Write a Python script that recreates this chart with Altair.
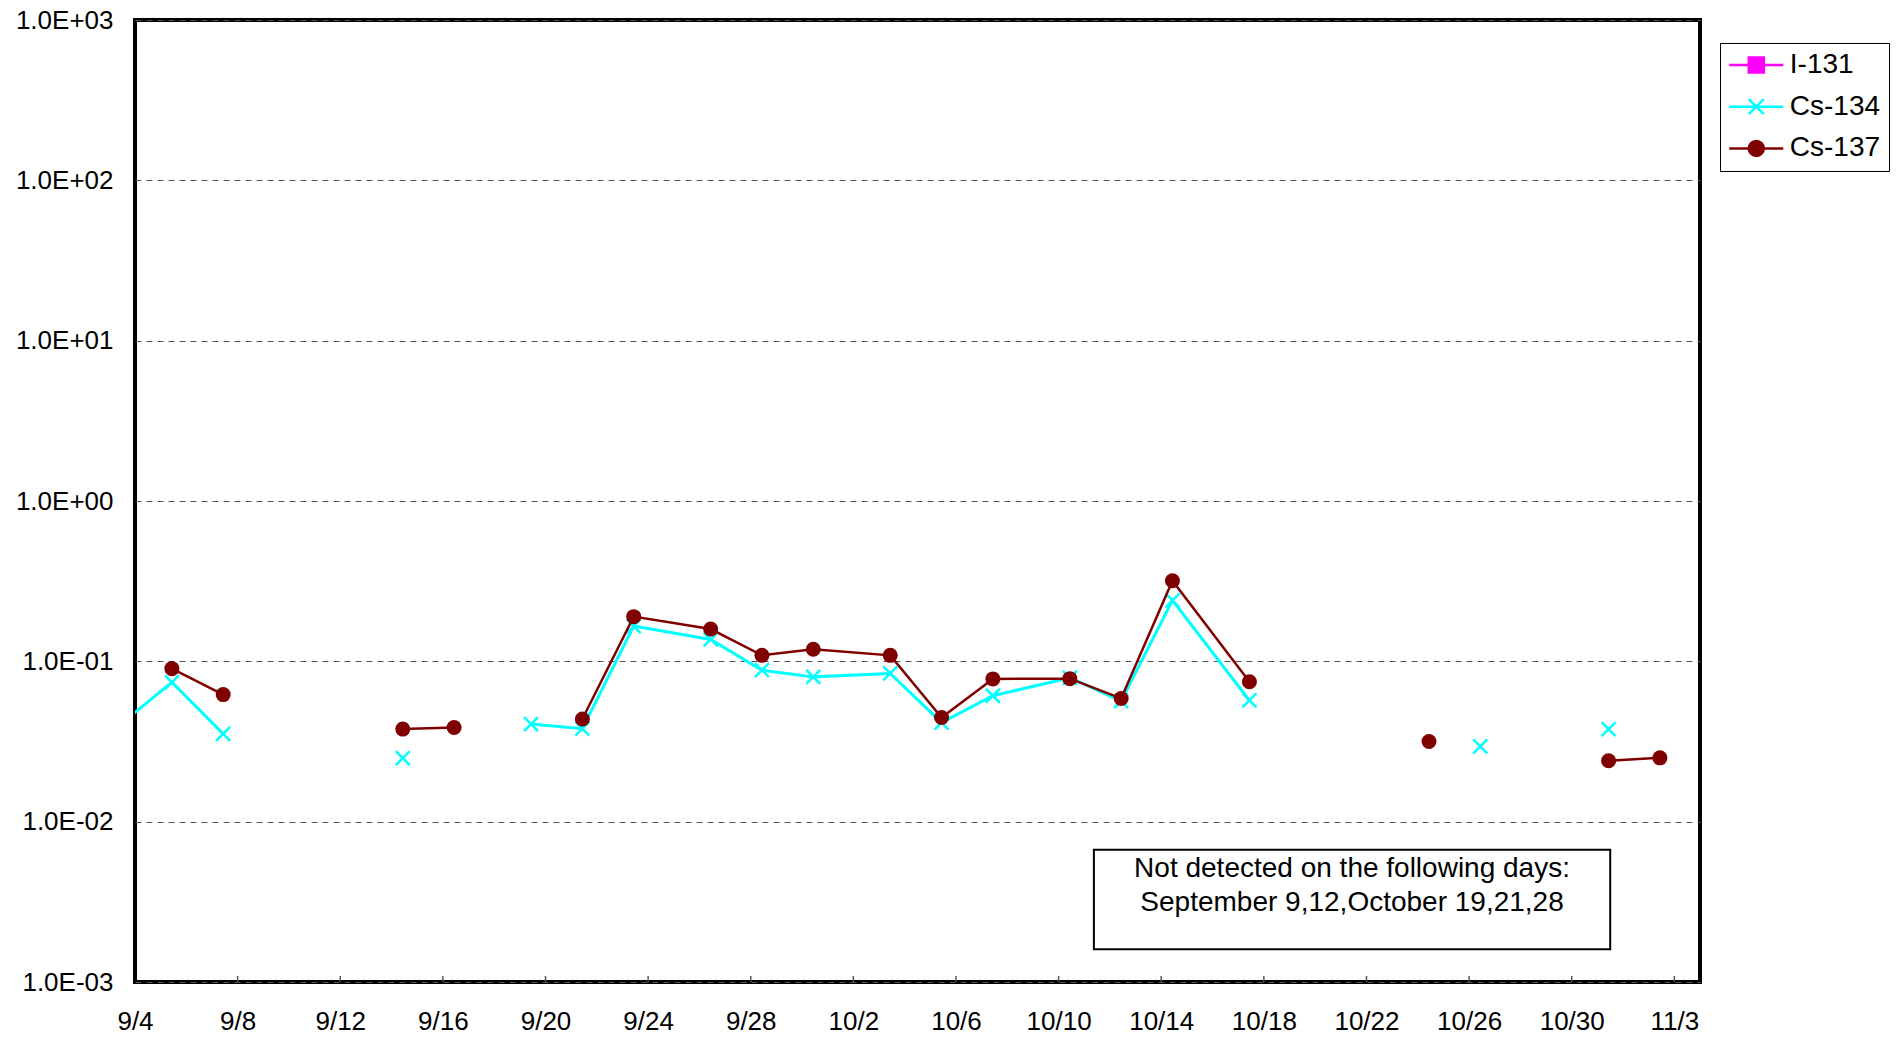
import altair as alt
import pandas as pd

YEAR = 2011
FONT = "Liberation Sans"

# ---- data ----
dates = ["9/2", "9/5", "9/7", "9/9", "9/12", "9/14", "9/16", "9/19", "9/21", "9/23", "9/26", "9/28", "9/30",
         "10/3", "10/5", "10/7", "10/10", "10/12", "10/14", "10/17", "10/19", "10/21", "10/24", "10/26",
         "10/28", "10/31", "11/2"]
cs134 = [0.030, 0.074, 0.0353, None, None, 0.0249, None, 0.0406, 0.0380, 0.166, 0.137, 0.088, 0.080,
         0.084, 0.0415, 0.061, 0.079, 0.0565, 0.240, 0.057, None, None, None, 0.0295,
         None, 0.0378, None]
cs137 = [None, 0.090, 0.062, None, None, 0.0378, 0.0387, None, 0.0437, 0.190, 0.159, 0.109, 0.119,
         0.109, 0.0446, 0.0777, 0.078, 0.0587, 0.318, 0.0746, None, None, 0.0316, None,
         None, 0.0240, 0.0250]
isotopes = ["I-131", "Cs-134", "Cs-137"]
tick_dates = ["9/4", "9/8", "9/12", "9/16", "9/20", "9/24", "9/28", "10/2", "10/6", "10/10",
              "10/14", "10/18", "10/22", "10/26", "10/30", "11/3"]
y_ticks = [0.001, 0.01, 0.1, 1, 10, 100, 1000]
note_lines = ["Not detected on the following days:", "September 9,12,October 19,21,28"]

# ---- styles ----
MAGENTA, CYAN, RED = "#FF00FF", "#00FFFF", "#800000"
colors = [MAGENTA, CYAN, RED]
legend_paths = [
    "M-3.6,0H3.6M-1,-1H1V1H-1Z",
    "M-3.6,0H3.6M-1,-1L1,1M-1,1L1,-1",
    "M-3.6,0H3.6M1,0A1,1,0,1,1,-1,0A1,1,0,1,1,1,0Z",
]
X_MARK = "M-1,-1L1,1M-1,1L1,-1"
POINT_HOURS = 10.5  # Excel places each day's point inside its category


def ts(md, hours=0.0):
    m, d = (int(p) for p in md.split("/"))
    return pd.Timestamp(YEAR, m, d) + pd.Timedelta(hours=hours)


def series_frame(vals):
    rows, seg = [], 0
    for d, v in zip(dates, vals):
        if v is None:
            seg += 1
            continue
        rows.append({"t": ts(d, POINT_HOURS), "v": v, "seg": seg})
    return pd.DataFrame(rows)


df134 = series_frame(cs134)
df137 = series_frame(cs137)

x_scale = alt.Scale(domain=[alt.DateTime(year=2011, month=9, date=4),
                            alt.DateTime(year=2011, month=11, date=4)])
y_scale = alt.Scale(type="log", domain=[0.001, 1000], nice=False)

x_axis = alt.Axis(
    values=[alt.DateTime(year=YEAR, month=int(s.split("/")[0]), date=int(s.split("/")[1])) for s in tick_dates],
    format="%-m/%-d", formatType="time", ticks=False, tickSize=0, grid=False, domain=False,
    labelFontSize=26, labelFont=FONT, labelColor="black", labelPadding=26,
    labelFlush=False, labelOverlap=False, labelAngle=0, title=None)
y_expr = ("'1.0E' + (round(log(datum.value)/LN10) >= 0 ? '+' : '-') + "
          "(abs(round(log(datum.value)/LN10)) < 10 ? '0' : '') + abs(round(log(datum.value)/LN10))")
y_axis = alt.Axis(
    values=y_ticks, labelExpr=y_expr, ticks=False, tickSize=0, domain=False,
    grid=True, gridDash=[6, 5], gridColor="#555555", gridWidth=1,
    labelFontSize=26, labelFont=FONT, labelColor="black", labelPadding=22, title=None)

X = alt.X("t:T", scale=x_scale, axis=x_axis, title=None)
Y = alt.Y("v:Q", scale=y_scale, axis=y_axis, title=None)

line134 = alt.Chart(df134).mark_line(color=CYAN, strokeWidth=3, clip=True).encode(x=X, y=Y, detail="seg:N")
pts134 = alt.Chart(df134).mark_point(shape=X_MARK, filled=False, size=196, color=CYAN,
                                     strokeWidth=2.5, opacity=1, clip=True).encode(x=X, y=Y)
line137 = alt.Chart(df137).mark_line(color=RED, strokeWidth=2.5, clip=True).encode(x=X, y=Y, detail="seg:N")
pts137 = alt.Chart(df137).mark_point(shape="circle", filled=True, size=225, color=RED,
                                     opacity=1, clip=True).encode(x=X, y=Y)

# inside tick marks on the bottom axis
tick_df = pd.DataFrame({"t": [ts(s) for s in tick_dates[1:]], "v": 0.001, "v2": 0.00109})
ticks = alt.Chart(tick_df).mark_rule(color="#555555", strokeWidth=1.5).encode(x=X, y=Y, y2="v2:Q")

# legend (library legend, merged fill/stroke/shape)
leg = alt.Legend(title=None, orient="none", legendX=1585, legendY=23, symbolSize=225,
                 symbolStrokeWidth=2.5, symbolOpacity=1, symbolOffset=14.3,
                 labelFontSize=28, labelFont=FONT, labelColor="black", labelOffset=19.5,
                 padding=8, rowPadding=13.7,
                 strokeColor="black", fillColor="white", cornerRadius=0, labelLimit=0)
leg_df = pd.DataFrame({"iso": isotopes})
legend_layer = alt.Chart(leg_df).mark_point(filled=True, opacity=0).encode(
    fill=alt.Fill("iso:N", scale=alt.Scale(domain=isotopes, range=colors), legend=leg, sort=isotopes),
    stroke=alt.Stroke("iso:N", scale=alt.Scale(domain=isotopes, range=colors), legend=leg, sort=isotopes),
    shape=alt.Shape("iso:N", scale=alt.Scale(domain=isotopes, range=legend_paths), legend=leg, sort=isotopes),
)

# annotation box, placed in data space
box_df = pd.DataFrame({"t": [pd.Timestamp(2011, 10, 11, 9)], "t2": [pd.Timestamp(2011, 10, 31, 12)],
                       "v": [0.0016], "v2": [0.00667]})
box = alt.Chart(box_df).mark_rect(fill="white", stroke="black", strokeWidth=2).encode(
    x=X, x2="t2:T", y=Y, y2="v2:Q")
note_df = pd.DataFrame({"t": [pd.Timestamp(2011, 10, 21, 10, 30)] * 2, "v": [0.00453, 0.00278],
                        "txt": note_lines})
note = alt.Chart(note_df).mark_text(fontSize=28, font=FONT, color="black", align="center",
                                    baseline="alphabetic").encode(x=X, y=Y, text="txt:N")

chart = alt.layer(line134, pts134, line137, pts137, ticks, box, note, legend_layer).properties(
    width=1565, height=962,
    padding={"left": 127, "top": 12, "right": 195, "bottom": 56},
    autosize=alt.AutoSizeParams(type="none"),
    background="white",
).configure(font=FONT).configure_view(stroke="black", strokeWidth=4)

chart.save("out.html", embed_options={"renderer": "svg", "actions": False})
